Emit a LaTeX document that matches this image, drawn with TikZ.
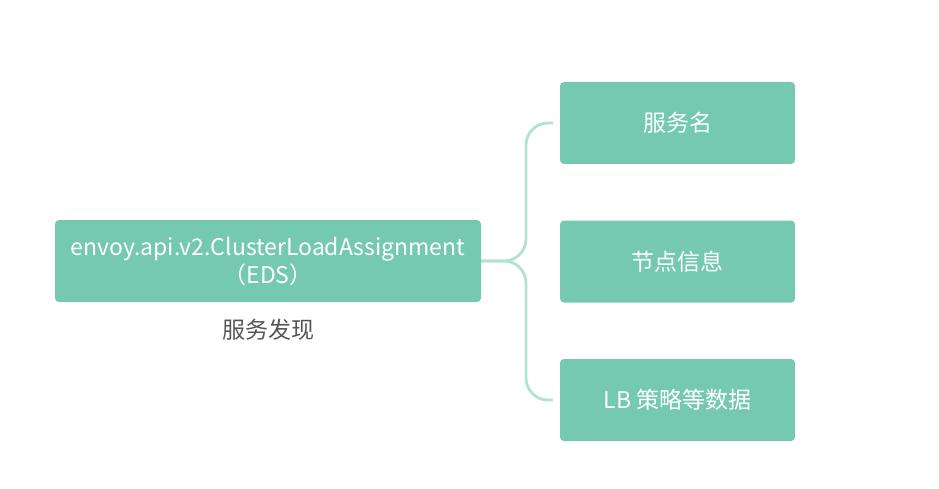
\documentclass[tikz,border=0pt]{standalone}
\usepackage{fontspec}
\setmainfont{Noto Sans CJK SC}
\definecolor{boxgreen}{HTML}{74C9B0}
\definecolor{linegreen}{HTML}{B2E2D0}
\definecolor{labelgray}{HTML}{555555}
\begin{document}
\begin{tikzpicture}[x=1pt,y=-1pt,
  box/.style={fill=boxgreen,rounded corners=4pt,text=white,align=center,font=\fontsize{23}{28}\selectfont,inner sep=0pt},
  link/.style={draw=linegreen,line width=2.8pt,rounded corners=22pt}]
\useasboundingbox (0,0) rectangle (939,489);
\node[box,minimum width=426pt,minimum height=82pt] (L) at (268,261) {envoy.api.v2.ClusterLoadAssignment\\（EDS）};
\node[text=labelgray,font=\fontsize{23}{28}\selectfont] (lab) at (268,330) {服务发现};
\node[box,minimum width=235pt,minimum height=82pt] (A) at (677.5,123) {服务名};
\node[box,minimum width=235pt,minimum height=82pt] (B) at (677.5,261.5) {节点信息};
\node[box,minimum width=235pt,minimum height=82pt] (C) at (677.5,400) {LB 策略等数据};
\coordinate (Aend) at ([xshift=-7pt]A.west);
\coordinate (Cend) at ([xshift=-7pt]C.west);
\coordinate (J) at (526,261);
\draw[link] (L.east) -- (J) -- (J|-Aend) -- (Aend);
\draw[link] (L.east) -- (J) -- (J|-Cend) -- (Cend);
\end{tikzpicture}
\end{document}
